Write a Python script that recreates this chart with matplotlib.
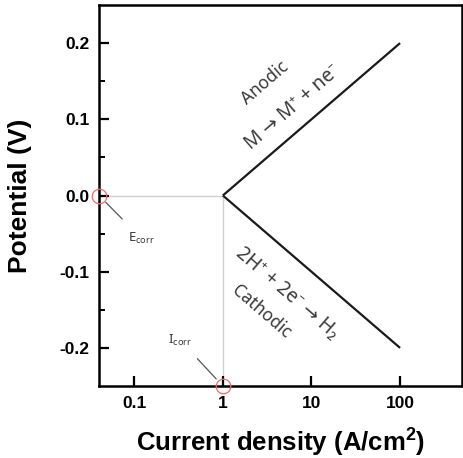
import matplotlib
matplotlib.use("Agg")
import matplotlib.pyplot as plt
import numpy as np

# data
anodic_x = [1, 100]
anodic_y = [0.0, 0.2]
cathodic_x = [1, 100]
cathodic_y = [0.0, -0.2]
e_corr = 0.0
i_corr = 1.0
xlim = (0.04, 500)
ylim = (-0.25, 0.25)
xticks = [0.1, 1, 10, 100]
xticklabels = ["0.1", "1", "10", "100"]
yticks = [0.2, 0.1, 0.0, -0.1, -0.2]
yticklabels = ["0.2", "0.1", "0.0", "-0.1", "-0.2"]
yminor = [0.15, 0.05, -0.05, -0.15]

plt.rcParams['mathtext.fontset'] = 'custom'
plt.rcParams['mathtext.rm'] = 'Noto Sans'
plt.rcParams['mathtext.it'] = 'Noto Sans'
plt.rcParams['mathtext.bf'] = 'Liberation Sans:bold'

fig = plt.figure(figsize=(4.63, 4.58), dpi=100)
ax = fig.add_axes([99/463, 1-386/458, 363/463, 381/458])
ax.set_xscale('log')
ax.set_xlim(*xlim)
ax.set_ylim(*ylim)

ax.plot(anodic_x, anodic_y, color='#1a1a1a', lw=1.6, solid_capstyle='butt')
ax.plot(cathodic_x, cathodic_y, color='#1a1a1a', lw=1.6, solid_capstyle='butt')
ax.plot([xlim[0], i_corr], [e_corr, e_corr], color='#d0d0d0', lw=1.0, zorder=1)
ax.plot([i_corr, i_corr], [ylim[0], e_corr], color='#d0d0d0', lw=1.0, zorder=1)

ax.plot([xlim[0]], [e_corr], marker='o', ms=10.5, mfc='none', mec='#ee6b6b', mew=0.9,
        clip_on=False, zorder=5)
ax.plot([i_corr], [ylim[0]], marker='o', ms=10.5, mfc='none', mec='#ee6b6b', mew=0.9,
        clip_on=False, zorder=5)

fam = ['Noto Sans', 'DejaVu Sans']
tc = '#3a3a3a'
ax.annotate('E$_{\\mathrm{corr}}$', xy=(xlim[0], e_corr), xytext=(0.12, -0.056),
            fontsize=9.5, color=tc, family=fam, ha='center', va='center',
            arrowprops=dict(arrowstyle='-', color='#555555', lw=0.9,
                            shrinkA=9, shrinkB=7))
ax.annotate('I$_{\\mathrm{corr}}$', xy=(i_corr, ylim[0]), xytext=(0.33, -0.19),
            fontsize=9.5, color=tc, family=fam, ha='center', va='center',
            annotation_clip=False,
            arrowprops=dict(arrowstyle='-', color='#555555', lw=0.9,
                            shrinkA=8, shrinkB=7))

ang = 40.8
ax.text(2.97, 0.148, 'Anodic', rotation=ang, rotation_mode='anchor', ha='center',
        va='center', fontsize=12.5, color=tc, family=fam)
ax.text(6.15, 0.115, 'M → M⁺ + ne⁻', rotation=ang, rotation_mode='anchor',
        ha='center', va='center', fontsize=14, color=tc, family=fam)
ax.text(5.26, -0.128, '2H⁺ + 2e⁻ → H₂', rotation=-ang, rotation_mode='anchor',
        ha='center', va='center', fontsize=14, color=tc, family=fam)
ax.text(2.75, -0.153, 'Cathodic', rotation=-ang, rotation_mode='anchor',
        ha='center', va='center', fontsize=12.5, color=tc, family=fam)

ax.set_xticks(xticks)
ax.set_xticklabels(xticklabels)
ax.xaxis.set_minor_locator(matplotlib.ticker.NullLocator())
ax.set_yticks(yticks)
ax.set_yticklabels(yticklabels)
ax.set_yticks(yminor, minor=True)

for lab in ax.get_xticklabels() + ax.get_yticklabels():
    lab.set_family('Liberation Sans')
    lab.set_fontweight('bold')
    lab.set_fontsize(12.5)

ax.tick_params(which='major', direction='in', length=7, width=1.6, pad=7)
ax.tick_params(which='minor', direction='in', length=4, width=1.4)
for s in ax.spines.values():
    s.set_linewidth(1.8)

ax.set_xlabel('Current density (A/cm$^{\\mathbf{2}}$)', family='Liberation Sans',
              fontweight='bold', fontsize=18.5)
ax.xaxis.set_label_coords(0.5, -0.108)
ax.set_ylabel('Potential (V)', family='Liberation Sans', fontweight='bold', fontsize=19)
ax.yaxis.set_label_coords(-0.185, 0.5)

fig.savefig('out.png', dpi=100)
